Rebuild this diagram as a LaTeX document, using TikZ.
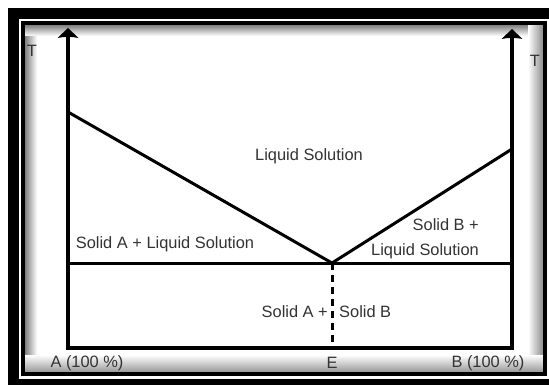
\documentclass[tikz,border=0pt]{standalone}
\usepackage{fontspec}
\setmainfont{Liberation Sans}
\begin{document}
\begin{tikzpicture}[x=1pt,y=-1pt,
  lbl/.style={text=black!80, font=\fontsize{16.4}{19}\selectfont, inner sep=0pt},
  axis/.style={line width=4pt, black},
  phase/.style={line width=3pt, black},
  tipshape/.style={fill=black}]
\useasboundingbox (0,0) rectangle (549,385);
% frame
\fill[white] (0,0) rectangle (549,385);
\fill[black] (8,8) rectangle (560,400);
\fill[white] (19,19) rectangle (549,379);
\fill[white] (25,25) rectangle (543,372);
% inner shadow
\shade[left color=black!50, right color=white] (25,25) rectangle (37,372);
\shade[top color=black!50, bottom color=white] (25,25) rectangle (543,36);
\shade[left color=white, right color=black!45] (528,25) rectangle (543,372);
\shade[top color=white, bottom color=black!40] (25,355) rectangle (543,372);
\draw[line width=4pt] (23,23) rectangle (545,374);
% key points
\coordinate (O) at (68,348);
\coordinate (Otop) at (68,36);
\coordinate (Atip) at (68,28);
\coordinate (R) at (512,348);
\coordinate (Rtop) at (512,36);
\coordinate (Btip) at (512,29);
\coordinate (LA) at (68,112);
\coordinate (LB) at (512,149);
\coordinate (E) at (332,263);
\coordinate (EL) at (68,263);
\coordinate (ER) at (512,263);
\coordinate (Eb) at (332,348);
% axes
\draw[axis] (O) -- (Otop);
\draw[axis] (R) -- (Rtop);
\fill[tipshape] (Atip) -- (78.5,38) .. controls (72,36.5) and (64,36.5) .. (57.5,38) -- cycle;
\fill[tipshape] (Btip) -- (522.5,39) .. controls (516,37.5) and (508,37.5) .. (501.5,39) -- cycle;
\draw[line width=3.5pt, line cap=rect] (O) -- (R);
% phase lines
\draw[phase] (LA) -- (E) -- (LB);
\draw[phase] (EL) -- (ER);
\draw[line width=3pt, dash pattern=on 7pt off 5pt] (E) -- (Eb);
% labels
\node[lbl] (tA) at (32,51) {T};
\node[lbl] (tB) at (535,61) {T};
\node[lbl] (liq) at (309,156) {Liquid Solution};
\node[lbl] (sal) at (165,244) {Solid A + Liquid Solution};
\node[lbl, anchor=east] (sb1) at (479,225) {Solid B +};
\node[lbl, anchor=east] (sb2) at (479,251) {Liquid Solution};
\node[lbl, anchor=east] (sa) at (328,312) {Solid A +};
\node[lbl, anchor=west] (sb) at (339,312) {Solid B};
\node[lbl] (la) at (87,363) {A (100 \%)};
\node[lbl] (le) at (332,363) {E};
\node[lbl] (lb) at (488,363) {B (100 \%)};
\end{tikzpicture}
\end{document}
